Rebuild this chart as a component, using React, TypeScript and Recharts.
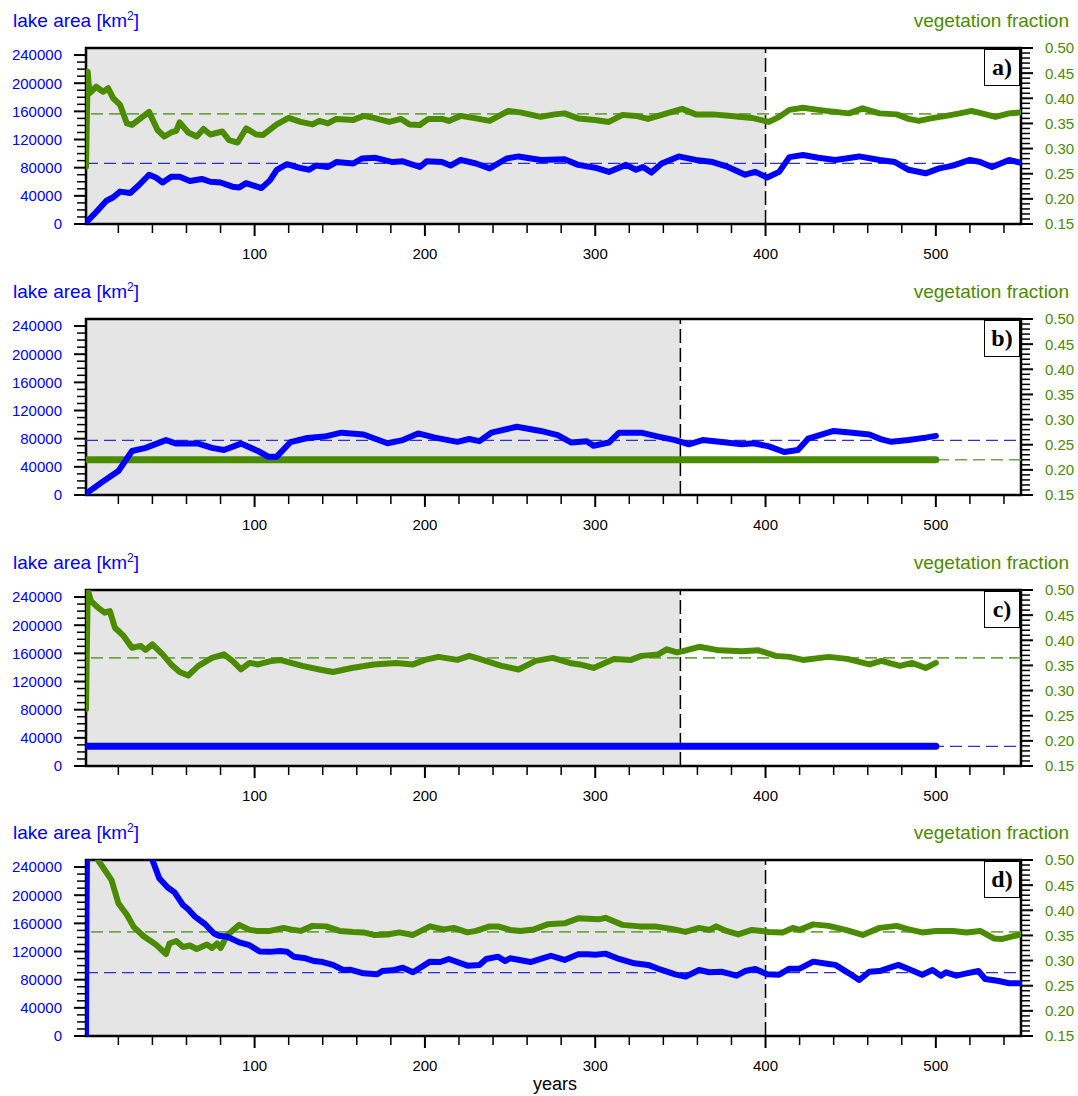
import React from "react";
import {
  ComposedChart,
  Line,
  XAxis,
  YAxis,
  ReferenceArea,
  ReferenceLine,
} from "recharts";

// [year, lake area km2] and [year, vegetation fraction]
const aLake = [
  [1, 2000], [7, 17000], [13, 33000], [17, 38000], [21, 46000], [27, 44000], [32, 55000],
  [38, 70000], [42, 66000], [46, 59000], [51, 67000], [56, 67000], [62, 61000], [69, 64000],
  [74, 60000], [80, 59000], [87, 53000], [91, 52000], [95, 58000], [99, 55000], [104, 51000],
  [109, 62000], [113, 77000], [119, 85000], [126, 80000], [132, 77000], [136, 83000],
  [143, 81000], [148, 88000], [158, 86000], [163, 93000], [171, 94000], [181, 88000],
  [187, 89000], [197, 81000], [201, 89000], [210, 88000], [215, 83000], [221, 91000],
  [230, 86000], [238, 79000], [248, 93000], [255, 96000], [268, 91000], [282, 92000],
  [290, 84000], [300, 80000], [308, 74000], [318, 84000], [324, 77000], [328, 81000],
  [333, 73000], [339, 86000], [349, 96000], [359, 91000], [369, 88000], [378, 81000],
  [388, 70000], [394, 74000], [401, 66000], [408, 74000], [414, 95000], [422, 98000],
  [431, 94000], [441, 91000], [455, 96000], [467, 91000], [476, 88000], [484, 77000],
  [494, 72000], [502, 79000], [510, 83000], [520, 91000], [526, 88000], [533, 81000],
  [543, 91000], [550, 87000],
];
const aVeg = [
  [1, 0.264], [2, 0.453], [3, 0.41], [7, 0.423], [11, 0.413], [14, 0.42], [17, 0.4],
  [21, 0.387], [25, 0.35], [28, 0.347], [33, 0.36], [38, 0.373], [43, 0.337], [47, 0.324],
  [51, 0.332], [54, 0.335], [56, 0.352], [61, 0.332], [66, 0.324], [70, 0.339], [74, 0.328],
  [81, 0.334], [85, 0.317], [90, 0.312], [95, 0.34], [101, 0.328], [105, 0.327],
  [113, 0.348], [120, 0.361], [127, 0.353], [134, 0.348], [138, 0.355], [143, 0.35],
  [148, 0.359], [158, 0.357], [164, 0.365], [170, 0.361], [179, 0.353], [186, 0.359],
  [191, 0.348], [197, 0.347], [202, 0.359], [210, 0.359], [214, 0.355], [221, 0.365],
  [230, 0.36], [238, 0.355], [249, 0.375], [256, 0.372], [268, 0.363], [276, 0.368],
  [282, 0.37], [290, 0.36], [300, 0.357], [308, 0.353], [316, 0.367], [324, 0.365],
  [331, 0.359], [339, 0.367], [351, 0.379], [359, 0.368], [369, 0.368], [380, 0.365],
  [392, 0.361], [402, 0.353], [408, 0.363], [414, 0.377], [422, 0.381], [431, 0.377],
  [441, 0.373], [449, 0.37], [457, 0.38], [467, 0.37], [477, 0.368], [484, 0.359],
  [490, 0.355], [497, 0.36], [506, 0.365], [514, 0.37], [521, 0.375], [527, 0.37],
  [535, 0.363], [543, 0.37], [550, 0.372],
];

const bLake = [
  [1, 2000], [10, 17500], [20, 34000], [28, 62500], [36, 67000], [48, 78000], [54, 73000],
  [67, 73000], [75, 67000], [82, 64000], [92, 73000], [102, 62500], [108, 54500],
  [113, 54500], [121, 75000], [131, 81000], [141, 83000], [151, 88500], [164, 86000],
  [178, 73500], [187, 78000], [196, 87500], [206, 81500], [219, 75500], [226, 79500],
  [232, 76500], [239, 88500], [254, 97000], [268, 91000], [278, 85000], [286, 74500],
  [295, 76500], [299, 70000], [308, 74500], [314, 88500], [327, 88500], [337, 83000],
  [347, 78000], [355, 72000], [363, 78000], [373, 75500], [386, 72000], [393, 73500],
  [402, 69000], [411, 61000], [419, 64000], [425, 80000], [440, 91000], [451, 88500],
  [461, 86000], [468, 79000], [474, 75500], [484, 78000], [494, 81500], [500, 84000],
];
const bVeg = [
  [1, 0.22], [100, 0.22], [200, 0.22], [300, 0.22], [400, 0.22], [500, 0.22],
];

const cLake = [
  [1, 28000], [100, 28000], [200, 28000], [300, 28000], [400, 28000], [500, 28000],
];
const cVeg = [
  [1, 0.263], [2, 0.5], [4, 0.478], [8, 0.465], [12, 0.455], [15, 0.458], [18, 0.425],
  [23, 0.409], [28, 0.385], [33, 0.389], [36, 0.381], [40, 0.392], [46, 0.372], [51, 0.352],
  [56, 0.337], [61, 0.33], [67, 0.349], [75, 0.365], [82, 0.372], [87, 0.359], [92, 0.342],
  [97, 0.355], [102, 0.352], [110, 0.359], [115, 0.361], [128, 0.349], [138, 0.342],
  [146, 0.337], [157, 0.345], [170, 0.352], [183, 0.355], [193, 0.352], [200, 0.361],
  [208, 0.367], [219, 0.361], [226, 0.369], [232, 0.363], [245, 0.349], [255, 0.342],
  [265, 0.359], [275, 0.365], [285, 0.355], [291, 0.352], [299, 0.345], [311, 0.363],
  [321, 0.361], [327, 0.369], [337, 0.372], [342, 0.382], [348, 0.376], [351, 0.378],
  [361, 0.387], [373, 0.38], [386, 0.378], [396, 0.38], [406, 0.369], [414, 0.367],
  [422, 0.361], [437, 0.367], [448, 0.363], [461, 0.352], [468, 0.359], [479, 0.349],
  [486, 0.355], [494, 0.345], [500, 0.355],
];

const dLake = [
  [1, 0], [2, 600000], [30, 330000], [40, 250000], [44, 224000], [49, 211000], [53, 204000],
  [58, 186000], [61, 180000], [65, 169500], [71, 158700], [76, 146000], [79, 142500],
  [84, 141000], [91, 133000], [97, 129000], [103, 120000], [109, 119500], [115, 120700],
  [119, 119800], [123, 112700], [130, 110400], [135, 106500], [140, 105000], [146, 101000],
  [152, 93800], [156, 94200], [164, 89000], [172, 87600], [175, 92300], [181, 93300],
  [187, 97000], [193, 90500], [203, 105600], [209, 105100], [214, 109400], [225, 99900],
  [232, 100900], [236, 109400], [243, 112700], [247, 106500], [250, 110400], [262, 105100],
  [268, 109400], [274, 114000], [282, 108000], [290, 116000], [296, 116000], [300, 115500],
  [306, 117000], [314, 109400], [323, 103200], [331, 101000], [339, 93800], [347, 87600],
  [353, 84300], [361, 93800], [367, 90500], [374, 91300], [378, 89000], [383, 85700],
  [388, 92300], [394, 95200], [401, 87600], [408, 87100], [414, 95600], [420, 95600],
  [428, 105600], [437, 102300], [441, 101000], [449, 89000], [455, 79500], [461, 91300],
  [467, 92300], [473, 97000], [478, 101000], [484, 95200], [492, 87100], [498, 93800],
  [503, 85700], [506, 90500], [512, 85700], [518, 89000], [525, 92300], [529, 81000],
  [537, 78100], [543, 74900], [550, 74900],
];
const dVeg = [
  [1, 0.39], [2, 0.56], [7, 0.56], [8, 0.5], [12, 0.48], [16, 0.46], [20, 0.414],
  [25, 0.391], [29, 0.367], [35, 0.348], [42, 0.332], [48, 0.313], [50, 0.334], [54, 0.339],
  [58, 0.327], [62, 0.33], [66, 0.323], [72, 0.332], [75, 0.325], [78, 0.334], [80, 0.325],
  [84, 0.351], [91, 0.371], [97, 0.361], [101, 0.359], [109, 0.359], [117, 0.365],
  [121, 0.362], [127, 0.359], [134, 0.369], [142, 0.368], [150, 0.359], [158, 0.357],
  [164, 0.356], [170, 0.351], [178, 0.352], [185, 0.356], [193, 0.351], [203, 0.368],
  [211, 0.362], [217, 0.365], [225, 0.356], [230, 0.359], [238, 0.368], [243, 0.368],
  [250, 0.361], [256, 0.359], [264, 0.362], [272, 0.372], [282, 0.374], [290, 0.384],
  [302, 0.382], [306, 0.385], [316, 0.371], [326, 0.368], [335, 0.368], [345, 0.363],
  [353, 0.357], [361, 0.365], [367, 0.361], [371, 0.368], [377, 0.359], [384, 0.352],
  [392, 0.361], [402, 0.357], [410, 0.356], [416, 0.365], [420, 0.361], [428, 0.372],
  [437, 0.369], [447, 0.361], [457, 0.351], [467, 0.365], [477, 0.369], [484, 0.362],
  [492, 0.356], [500, 0.359], [510, 0.359], [518, 0.356], [526, 0.359], [534, 0.344],
  [539, 0.343], [545, 0.348], [550, 0.352],
];

// long-term means (dashed lines)
const lakeMeans = [86000, 77600, 28000, 90000];
const vegMeans = [0.369, 0.22, 0.365, 0.357];
const spinupEnds = [400, 350, 350, 400];
const panelTags = ["a)", "b)", "c)", "d)"];

const xTicks = Array.from({ length: 27 }, (_, i) => (i + 1) * 20);
const lakeTicks = Array.from({ length: 25 }, (_, i) => i * 10000);
const vegTicks = Array.from({ length: 36 }, (_, i) => (15 + i) / 100);

const BLUE = "#0000ff";
const GREEN = "#4b8b00";
const FONT = "'Liberation Sans', Arial, Helvetica, sans-serif";

const W = 1078;
const H = 271;
const panelTops = [0, 271, 542, 812];

const toPoints = (rows: number[][]) => rows.map(([year, v]) => ({ year, v }));

const XTick = ({ x, y, payload }: any) => {
  const major = payload.value % 100 === 0;
  return (
    <g>
      <line x1={x} x2={x} y1={y} y2={y + (major ? 12 : 9)} stroke="#000" strokeWidth={major ? 2 : 1.5} />
      {major && (
        <text x={x} y={y + 30} dy="0.36em" textAnchor="middle" fill="#000" fontSize={15}>
          {payload.value}
        </text>
      )}
    </g>
  );
};

const LakeTick = ({ x, y, payload }: any) => {
  const major = payload.value % 40000 === 0;
  return (
    <g>
      <line x1={x - (major ? 12 : 9)} x2={x} y1={y} y2={y} stroke="#000" strokeWidth={major ? 2 : 1.5} />
      {major && (
        <text x={x - 24} y={y} dy="0.36em" textAnchor="end" fill={BLUE} fontSize={15}>
          {payload.value}
        </text>
      )}
    </g>
  );
};

const VegTick = ({ x, y, payload }: any) => {
  const major = Math.round(payload.value * 100) % 5 === 0;
  return (
    <g>
      <line x1={x} x2={x + (major ? 12 : 9)} y1={y} y2={y} stroke="#000" strokeWidth={major ? 2 : 1.5} />
      {major && (
        <text x={x + 24} y={y} dy="0.36em" textAnchor="start" fill={GREEN} fontSize={15}>
          {payload.value.toFixed(2)}
        </text>
      )}
    </g>
  );
};

function Panel({ idx }: { idx: number }) {
  const lake = [aLake, bLake, cLake, dLake][idx];
  const veg = [aVeg, bVeg, cVeg, dVeg][idx];
  const top = panelTops[idx];
  // the constant series in b) and c) are drawn a little heavier
  const vegWidth = idx === 1 ? 7 : 6;
  const lakeWidth = idx === 2 ? 7 : 6;

  return (
    <div style={{ position: "absolute", left: 0, top, width: W, height: H }}>
      <ComposedChart width={W} height={H} margin={{ top: 48, right: 0, bottom: 0, left: 0 }}>
        <XAxis
          dataKey="year"
          type="number"
          domain={[1, 550]}
          ticks={xTicks}
          interval={0}
          allowDataOverflow
          height={47}
          axisLine={false}
          tickLine={false}
          tickSize={0}
          tickMargin={0}
          tick={<XTick />}
        />
        <YAxis
          yAxisId="lake"
          orientation="left"
          type="number"
          domain={[0, 250000]}
          ticks={lakeTicks}
          interval={0}
          allowDataOverflow
          width={86}
          axisLine={false}
          tickLine={false}
          tickSize={0}
          tickMargin={0}
          tick={<LakeTick />}
        />
        <YAxis
          yAxisId="veg"
          orientation="right"
          type="number"
          domain={[0.15, 0.5]}
          ticks={vegTicks}
          interval={0}
          allowDataOverflow
          width={57}
          axisLine={false}
          tickLine={false}
          tickSize={0}
          tickMargin={0}
          tick={<VegTick />}
        />
        <ReferenceArea
          yAxisId="lake"
          x1={1}
          x2={spinupEnds[idx]}
          y1={0}
          y2={250000}
          fill="#e5e5e5"
          fillOpacity={1}
          stroke="none"
        />
        <ReferenceLine
          yAxisId="lake"
          x={spinupEnds[idx]}
          stroke="#000"
          strokeWidth={1.5}
          strokeDasharray="14 5"
        />
        <ReferenceLine yAxisId="lake" y={lakeMeans[idx]} stroke="#2f2fd0" strokeWidth={1.3} strokeDasharray="12 6" />
        <ReferenceLine yAxisId="veg" y={vegMeans[idx]} stroke="#72a445" strokeWidth={1.6} strokeDasharray="12 6" />
        <Line
          yAxisId="veg"
          data={toPoints(veg)}
          dataKey="v"
          type="linear"
          stroke={GREEN}
          strokeWidth={vegWidth}
          strokeLinejoin="round"
          strokeLinecap="round"
          dot={false}
          isAnimationActive={false}
        />
        <Line
          yAxisId="lake"
          data={toPoints(lake)}
          dataKey="v"
          type="linear"
          stroke={BLUE}
          strokeWidth={lakeWidth}
          strokeLinejoin="round"
          strokeLinecap="round"
          dot={false}
          isAnimationActive={false}
        />
        <ReferenceArea
          yAxisId="lake"
          x1={1}
          x2={550}
          y1={0}
          y2={250000}
          fill="none"
          stroke="#000"
          strokeWidth={2.5}
        />
      </ComposedChart>

      <div style={{ position: "absolute", left: 13, top: 11, fontSize: 19, lineHeight: "19px", color: BLUE }}>
        lake area [km<sup style={{ fontSize: 12, lineHeight: 0 }}>2</sup>]
      </div>
      <div style={{ position: "absolute", right: 9, top: 11, fontSize: 19, lineHeight: "19px", color: GREEN }}>
        vegetation fraction
      </div>
      <div
        style={{
          position: "absolute",
          left: 984,
          top: 49,
          width: 36,
          height: 37,
          boxSizing: "border-box",
          border: "1.5px solid #000",
          background: "#fff",
          fontFamily: "'Liberation Serif', 'Times New Roman', serif",
          fontWeight: "bold",
          fontSize: 24,
          lineHeight: "34px",
          textAlign: "center",
        }}
      >
        {panelTags[idx]}
      </div>
    </div>
  );
}

export default function App() {
  return (
    <div
      style={{
        position: "absolute",
        left: 0,
        top: 0,
        width: W,
        height: 1096,
        background: "#fff",
        fontFamily: FONT,
      }}
    >
      {[0, 1, 2, 3].map((i) => (
        <Panel key={i} idx={i} />
      ))}
      <div
        style={{
          position: "absolute",
          left: 0,
          width: W + 32,
          top: 1075,
          textAlign: "center",
          fontSize: 18,
          lineHeight: "18px",
          color: "#000",
        }}
      >
        years
      </div>
    </div>
  );
}
